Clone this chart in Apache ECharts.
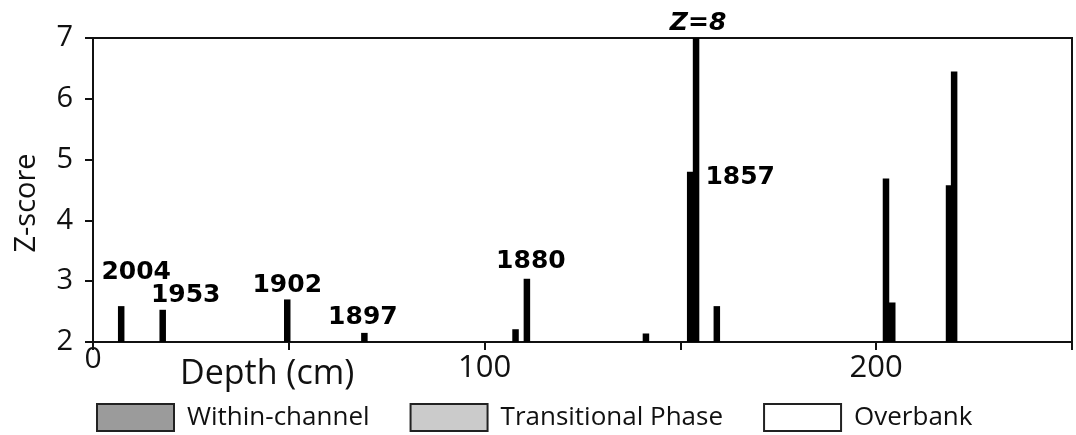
<!DOCTYPE html>
<html>
<head>
<meta charset="utf-8">
<script src="https://cdn.jsdelivr.net/npm/echarts@6/dist/echarts.min.js"></script>
<style>
  html, body { margin: 0; padding: 0; background: #fff; }
  #chart { width: 1076px; height: 435px; }
</style>
</head>
<body>
<div id="chart"></div>
<script>
// Z-score peaks down the core, depth in cm
const depthCm = [7.2, 17.8, 49.6, 69.3, 107.9, 110.8, 141.2, 152.5, 154.0, 159.3, 202.5, 204.1, 218.6, 219.9];
const zScores = [2.59, 2.53, 2.70, 2.15, 2.21, 3.04, 2.14, 4.80, 8.0, 2.59, 4.69, 2.65, 4.58, 6.45];
// dated horizons attached to the peaks ('' = unlabelled)
const peakLabels = ['2004', '1953', '1902', '1897', '', '1880', '', '1857', 'Z=8', '', '', '', '', ''];

// axis tick labels (x ticks every 50 cm, labelled every 100)
const xTickLabels = ['0', '', '100', '', '200', ''];
const yTickLabels = ['2', '3', '4', '5', '6', '7'];

// depositional phase legend
const phaseNames = ['Within-channel', 'Transitional Phase', 'Overbank'];

// ---- styling ----
const phaseFills = ['#9b9b9b', '#cbcbcb', '#ffffff'];
const labelNudge = {
  '2004': [15, -16], '1953': [23, 3.5], '1902': [0, 3.5], '1897': [-1.5, 2.5],
  '1880': [4, 0], '1857': [50, 23.5], 'Z=8': [2, 3]
};
const TEXT = '#111';
const SANS = '"Open Sans", "Noto Sans", sans-serif';

const chart = echarts.init(document.getElementById('chart'), null, { renderer: 'canvas' });

const peakData = depthCm.map((d, i) => {
  const txt = peakLabels[i];
  const item = { value: [d, zScores[i]] };
  if (txt) {
    item.label = {
      show: true,
      position: 'top',
      formatter: txt,
      offset: labelNudge[txt],
      fontStyle: txt === 'Z=8' ? 'italic' : 'normal'
    };
  }
  return item;
});

// legend-only entries for the depositional phases (no marks of their own)
const phaseSeries = phaseNames.map((name, i) => ({
  name: name,
  type: 'scatter',
  data: [],
  itemStyle: { color: phaseFills[i], borderColor: '#222', borderWidth: 2, opacity: 1 }
}));

chart.setOption({
  animation: false,
  backgroundColor: '#fff',
  grid: {
    left: 93, right: 4, top: 38, bottom: 93,
    show: true, borderColor: '#111', borderWidth: 2, backgroundColor: 'transparent'
  },
  title: {
    text: 'Depth (cm)',
    left: 175, top: 352,
    textStyle: { fontFamily: SANS, fontSize: 34, fontWeight: 'normal', color: TEXT }
  },
  legend: {
    top: 398, left: 91,
    itemWidth: 77, itemHeight: 27, itemGap: 40,
    icon: 'rect',
    data: phaseNames.map((name, i) => ({
      name: name,
      itemStyle: { color: phaseFills[i], borderColor: '#222', borderWidth: 2, opacity: 1 }
    })),
    textStyle: { fontFamily: SANS, fontSize: 26, color: TEXT, padding: [0, 0, 0, 8] },
    selectedMode: false
  },
  xAxis: {
    type: 'value',
    min: 0, max: 250, interval: 50,
    axisLine: { show: true, lineStyle: { color: '#111', width: 2 } },
    axisTick: { show: true, length: 8, lineStyle: { color: '#111', width: 2 } },
    splitLine: { show: false },
    axisLabel: {
      margin: 11,
      fontFamily: SANS, fontSize: 31, color: TEXT,
      showMaxLabel: true, showMinLabel: true,
      formatter: v => {
        const s = xTickLabels[Math.round(v / 50)] || '';
        return v === 0 ? '{lift|' + s + '}' : s;
      },
      rich: { lift: { fontFamily: SANS, fontSize: 30, color: TEXT, lineHeight: 12 } }
    }
  },
  yAxis: {
    type: 'value',
    min: 2, max: 7, interval: 1,
    name: 'Z-score',
    nameLocation: 'middle',
    nameGap: 52,
    nameTextStyle: { fontFamily: SANS, fontSize: 29, color: TEXT, padding: [0, 26, 0, 0] },
    axisLine: { show: true, lineStyle: { color: '#111', width: 2 } },
    axisTick: { show: true, length: 8, lineStyle: { color: '#111', width: 2 } },
    splitLine: { show: false },
    axisLabel: {
      margin: 20,
      fontFamily: SANS, fontSize: 29, color: TEXT,
      formatter: v => yTickLabels[Math.round(v - 2)]
    }
  },
  series: [
    {
      name: 'Z-score',
      type: 'bar',
      barCategoryGap: 0,
      barMinWidth: 6.5,
      barMaxWidth: 6.5,
      clip: true,
      itemStyle: { color: '#000' },
      label: {
        fontFamily: '"DejaVu Sans", sans-serif',
        fontWeight: 'bold',
        fontSize: 25,
        color: '#000',
        distance: 5
      },
      data: peakData,
      z: 3
    }
  ].concat(phaseSeries)
});
</script>
</body>
</html>
